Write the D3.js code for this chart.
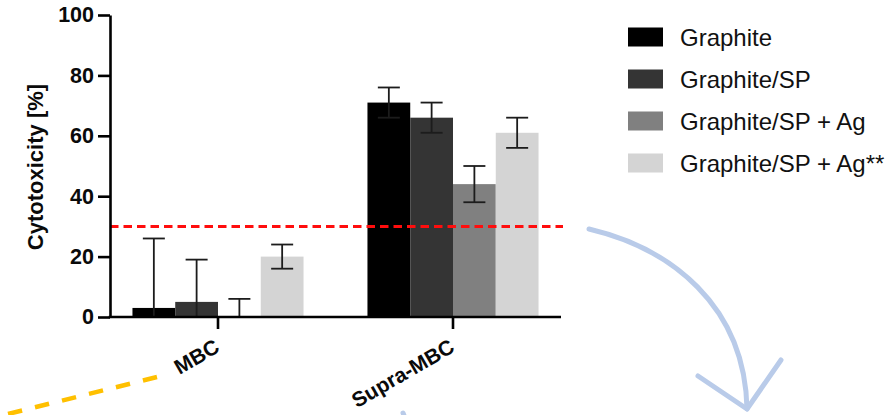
<!DOCTYPE html>
<html>
<head>
<meta charset="utf-8">
<script src="https://cdn.jsdelivr.net/npm/d3@7"></script>
<style>
  html, body { margin: 0; padding: 0; background: #ffffff; }
  svg { display: block; }
  text { font-family: "Liberation Sans", Arial, Helvetica, sans-serif; }
</style>
</head>
<body>
<svg id="chart" width="895" height="415"></svg>
<script>
// Groups along the x axis
const groups = ["MBC", "Supra-MBC"];
// Material series
const series = ["Graphite", "Graphite/SP", "Graphite/SP + Ag", "Graphite/SP + Ag**"];
// Mean cytotoxicity (%) per series, ordered as groups
const graphite        = [3, 71];
const graphiteSP      = [5, 66];
const graphiteSPAg    = [0, 44];
const graphiteSPAgSS  = [20, 61];
// Standard deviation per series, ordered as groups
const graphiteSD       = [23, 5];
const graphiteSPSD     = [14, 5];
const graphiteSPAgSD   = [6, 6];
const graphiteSPAgSSSD = [4, 5];
// Y axis ticks and threshold
const yTicks = [0, 20, 40, 60, 80, 100];
const threshold = 30;

const colors = ["#000000", "#343434", "#808080", "#d4d4d4"];
const means = [graphite, graphiteSP, graphiteSPAg, graphiteSPAgSS];
const sds = [graphiteSD, graphiteSPSD, graphiteSPAgSD, graphiteSPAgSSSD];

const rows = [];
groups.forEach((g, gi) => {
  series.forEach((s, si) => {
    rows.push({ group: g, series: s, mean: means[si][gi], sd: sds[si][gi], color: colors[si] });
  });
});

const svg = d3.select("#chart");

const axisLeftX = 110, axisRightX = 561;
const y = d3.scaleLinear().domain([0, 100]).range([317, 15]);
const x0 = d3.scaleBand().domain(groups).range([100.5, 570.5]).paddingInner(0.272).paddingOuter(0.136);
const x1 = d3.scaleBand().domain(series).range([0, x0.bandwidth()]).padding(0);

// Bars
const plot = svg.append("g");
plot.selectAll("rect.bar")
  .data(rows)
  .join("rect")
  .attr("class", "bar")
  .attr("x", d => x0(d.group) + x1(d.series))
  .attr("width", x1.bandwidth())
  .attr("y", d => y(d.mean))
  .attr("height", d => y(0) - y(d.mean))
  .attr("fill", d => d.color);

// Error bars, clipped at the axis floor
const capW = 22;
const errColor = "#1c1c1c", errWidth = 1.8;
const eb = plot.selectAll("g.err").data(rows).join("g").attr("class", "err")
  .attr("transform", d => `translate(${x0(d.group) + x1(d.series) + x1.bandwidth() / 2},0)`);
eb.append("line")
  .attr("x1", 0).attr("x2", 0)
  .attr("y1", d => y(Math.max(0, d.mean - d.sd)))
  .attr("y2", d => y(d.mean + d.sd))
  .attr("stroke", errColor).attr("stroke-width", errWidth);
eb.append("line")
  .attr("x1", -capW / 2).attr("x2", capW / 2)
  .attr("y1", d => y(d.mean + d.sd)).attr("y2", d => y(d.mean + d.sd))
  .attr("stroke", errColor).attr("stroke-width", errWidth);
eb.filter(d => d.mean - d.sd > 0).append("line")
  .attr("x1", -capW / 2).attr("x2", capW / 2)
  .attr("y1", d => y(d.mean - d.sd)).attr("y2", d => y(d.mean - d.sd))
  .attr("stroke", errColor).attr("stroke-width", errWidth);

// Threshold line
svg.append("line")
  .attr("x1", axisLeftX).attr("x2", 563)
  .attr("y1", y(threshold)).attr("y2", y(threshold))
  .attr("stroke", "#ff0d0d").attr("stroke-width", 3)
  .attr("stroke-dasharray", "8.5,5");

// Y axis
const yAxis = svg.append("g")
  .attr("transform", `translate(${axisLeftX},0)`)
  .call(d3.axisLeft(y).tickValues(yTicks).tickSize(12).tickPadding(4).tickSizeOuter(0));
yAxis.select(".domain").attr("stroke", "#000").attr("stroke-width", 2.6);
yAxis.selectAll(".tick line").attr("stroke", "#000").attr("stroke-width", 2.6);
yAxis.selectAll(".tick text")
  .attr("font-size", 21.5).attr("font-weight", "bold").attr("fill", "#0a0a0a")
  .attr("font-family", "'Liberation Sans', Arial, sans-serif");

// X axis
const xAxis = svg.append("g")
  .attr("transform", `translate(0,${y(0)})`)
  .call(d3.axisBottom(x0).tickSize(12).tickSizeOuter(0));
xAxis.select(".domain").remove();
xAxis.append("line")
  .attr("x1", axisLeftX - 1.3).attr("x2", axisRightX)
  .attr("y1", 0).attr("y2", 0)
  .attr("stroke", "#000").attr("stroke-width", 2.6);
xAxis.selectAll(".tick line").attr("stroke", "#000").attr("stroke-width", 2.6);
xAxis.selectAll(".tick text")
  .attr("font-size", 21).attr("font-weight", "bold").attr("fill", "#0a0a0a")
  .attr("font-family", "'Liberation Sans', Arial, sans-serif")
  .attr("text-anchor", "end")
  .attr("dy", 0)
  .attr("y", 0)
  .attr("transform", "translate(3,34) rotate(-30)");

// Y axis title
svg.append("text")
  .attr("transform", "translate(43,167) rotate(-90)")
  .attr("text-anchor", "middle")
  .attr("font-size", 22).attr("font-weight", "bold").attr("fill", "#0a0a0a")
  .text("Cytotoxicity [%]");

// Legend
const legend = svg.append("g").selectAll("g").data(series).join("g")
  .attr("transform", (d, i) => `translate(628,${37 + i * 42})`);
legend.append("rect")
  .attr("x", 0).attr("y", -9.5).attr("width", 35).attr("height", 19)
  .attr("fill", (d, i) => colors[i]);
legend.append("text")
  .attr("x", 52).attr("y", 8.6)
  .attr("font-size", 24).attr("fill", "#111")
  .text(d => d);

// Annotation strokes around the chart
const deco = svg.append("g").attr("fill", "none").attr("stroke-linecap", "butt");
deco.append("line")
  .attr("x1", 157).attr("y1", 377).attr("x2", 0).attr("y2", 416)
  .attr("stroke", "#ffc000").attr("stroke-width", 4.5)
  .attr("stroke-dasharray", "14.5,13.3");
const arrow = svg.append("g").attr("fill", "none")
  .attr("stroke", "#b9cbe9").attr("stroke-width", 5)
  .attr("stroke-linecap", "round").attr("stroke-linejoin", "round");
arrow.append("path").attr("d", "M589,229 C670,248 745,305 747,409");
arrow.append("path").attr("d", "M698,376 L747,409 L781,360");
arrow.append("path").attr("d", "M403,413 L405,418");
</script>
</body>
</html>
